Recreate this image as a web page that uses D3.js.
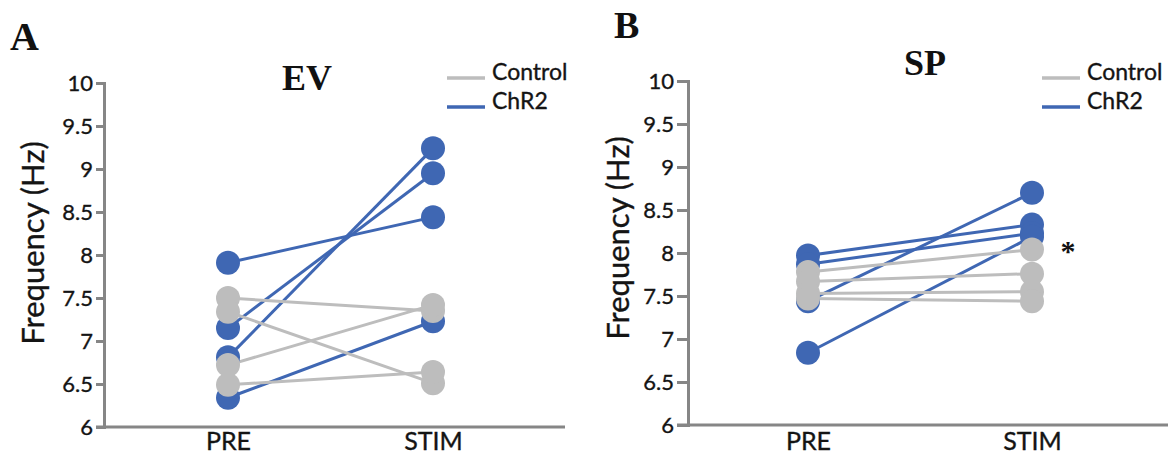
<!DOCTYPE html>
<html><head><meta charset="utf-8">
<script src="https://cdn.jsdelivr.net/npm/d3@7"></script>
<style>html,body{margin:0;padding:0;background:#fff;}</style>
</head><body>
<svg id="chart" width="1168" height="455"></svg>
<script>
// ---- data ----
const groups = ["PRE", "STIM"];
const yTicks = [6, 6.5, 7, 7.5, 8, 8.5, 9, 9.5, 10];
const yTickLabels = ["6", "6.5", "7", "7.5", "8", "8.5", "9", "9.5", "10"];
const seriesNames = ["Control", "ChR2"];

// Panel A (EV)
const evChR2Pre  = [7.91, 7.15, 6.81, 6.34];
const evChR2Stim = [8.44, 8.95, 9.24, 7.23];
const evCtrlPre  = [7.50, 7.34, 6.72, 6.49];
const evCtrlStim = [7.35, 6.51, 7.42, 6.64];

// Panel B (SP)
const spChR2Pre  = [7.97, 7.87, 7.44, 6.84];
const spChR2Stim = [8.33, 8.23, 8.70, 8.19];
const spCtrlPre  = [7.78, 7.67, 7.53, 7.47];
const spCtrlStim = [8.04, 7.76, 7.55, 7.44];

const BLUE = "#3f67b3", GRAY = "#bdbdbd", AXIS = "#868686", TXT = "#141414";
const SANS = "Lato, 'Open Sans', sans-serif";
const SERIF = "'Liberation Serif', 'DejaVu Serif', serif";

const svg = d3.select("#chart");
svg.append("rect").attr("width", 1168).attr("height", 455).attr("fill", "#fff");

function sansText(sel, size) {
  sel.attr("font-family", SANS).attr("font-size", size).attr("fill", TXT)
    .attr("stroke", TXT).attr("stroke-width", 0.35);
}

function panel(cfg) {
  const g = svg.append("g");
  const y = d3.scaleLinear().domain([6, 10]).range([cfg.yBottom, cfg.yTop]);
  const x = d3.scalePoint().domain(groups).range([cfg.xPre, cfg.xStim]);

  // y axis
  const ya = g.append("g").attr("transform", `translate(${cfg.axisX},0)`)
    .call(d3.axisLeft(y).tickValues(yTicks)
      .tickFormat((d, i) => yTickLabels[i])
      .tickSize(cfg.tickSize).tickPadding(3));
  ya.select(".domain").attr("stroke", AXIS).attr("stroke-width", 3);
  ya.selectAll(".tick line").attr("stroke", AXIS).attr("stroke-width", 3);
  sansText(ya.selectAll(".tick text"), 22);

  // x axis
  const xa = g.append("g").attr("transform", `translate(0,${cfg.yBottom})`)
    .call(d3.axisBottom(x).tickSize(0));
  xa.select(".domain").remove();
  sansText(xa.selectAll(".tick text"), 25);
  xa.selectAll(".tick text").attr("dy", 0).attr("y", 450 - cfg.yBottom);
  g.append("line").attr("x1", cfg.axisX - cfg.tickSize).attr("x2", cfg.xEnd)
    .attr("y1", cfg.yBottom).attr("y2", cfg.yBottom)
    .attr("stroke", AXIS).attr("stroke-width", 3);

  // y label
  sansText(g.append("text").attr("transform", `translate(${cfg.ylabX},${cfg.ylabY}) rotate(-90)`)
    .attr("text-anchor", "middle").text("Frequency (Hz)"), 31);

  // title and panel letter
  g.append("text").attr("x", cfg.titleX).attr("y", cfg.titleY).attr("text-anchor", "middle")
    .attr("font-family", SERIF).attr("font-weight", "bold").attr("font-size", 36)
    .attr("fill", "#111").text(cfg.title);
  g.append("text").attr("x", cfg.letterX).attr("y", cfg.letterY)
    .attr("font-family", SERIF).attr("font-weight", "bold").attr("font-size", cfg.letterSize)
    .attr("fill", "#111").text(cfg.letter);

  // data pairs
  const sets = [
    {pre: cfg.chr2Pre, stim: cfg.chr2Stim, color: BLUE},
    {pre: cfg.ctrlPre, stim: cfg.ctrlStim, color: GRAY}
  ];
  sets.forEach(s => {
    const pairs = s.pre.map((v, i) => [v, s.stim[i]]);
    g.append("g").selectAll("line").data(pairs).join("line")
      .attr("x1", x("PRE")).attr("x2", x("STIM"))
      .attr("y1", d => y(d[0])).attr("y2", d => y(d[1]))
      .attr("stroke", s.color).attr("stroke-width", 3);
  });
  sets.forEach(s => {
    const pts = [];
    s.pre.forEach(v => pts.push(["PRE", v]));
    s.stim.forEach(v => pts.push(["STIM", v]));
    g.append("g").selectAll("circle").data(pts).join("circle")
      .attr("cx", d => x(d[0])).attr("cy", d => y(d[1])).attr("r", 12)
      .attr("fill", s.color);
  });

  // legend
  const leg = g.append("g");
  [GRAY, BLUE].forEach((c, i) => {
    const ly = i === 0 ? 78 : 107;
    leg.append("line").attr("x1", cfg.legX).attr("x2", cfg.legX + 38)
      .attr("y1", ly).attr("y2", ly).attr("stroke", c).attr("stroke-width", 3.5);
    sansText(leg.append("text").attr("x", cfg.legX + 45).attr("y", ly + 2)
      .text(seriesNames[i]), 23);
  });
  return {g, x, y};
}

panel({
  axisX: 104, yTop: 83, yBottom: 427, xPre: 228, xStim: 433, xEnd: 565, tickSize: 8,
  ylabX: 44, ylabY: 243, title: "EV", titleX: 307, titleY: 90,
  letter: "A", letterX: 10, letterY: 50, letterSize: 40, legX: 447,
  chr2Pre: evChR2Pre, chr2Stim: evChR2Stim, ctrlPre: evCtrlPre, ctrlStim: evCtrlStim
});
const pB = panel({
  axisX: 688, yTop: 81, yBottom: 425, xPre: 808, xStim: 1032, xEnd: 1168, tickSize: 11,
  ylabX: 629, ylabY: 238, title: "SP", titleX: 925, titleY: 75,
  letter: "B", letterX: 614, letterY: 38, letterSize: 38, legX: 1042,
  chr2Pre: spChR2Pre, chr2Stim: spChR2Stim, ctrlPre: spCtrlPre, ctrlStim: spCtrlStim
});
// significance marker
pB.g.append("text").attr("x", 1068).attr("y", 261).attr("text-anchor", "middle")
  .attr("font-family", SERIF).attr("font-weight", "bold").attr("font-size", 30)
  .attr("fill", "#111").text("*");
</script>
</body></html>
